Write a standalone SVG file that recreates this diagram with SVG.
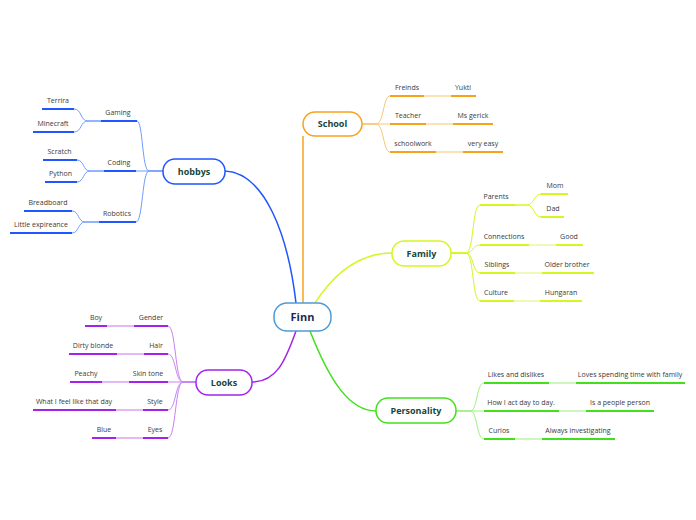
<svg xmlns="http://www.w3.org/2000/svg" width="696" height="520" viewBox="0 0 696 520">
<style>
.t{font-family:"Open Sans","Noto Sans",sans-serif;font-size:7px;fill:#3a3a3a;text-anchor:middle}
.n{font-family:"Open Sans","Noto Sans",sans-serif;font-size:9px;font-weight:bold;fill:#17463a;text-anchor:middle}
.box{fill:#fff;stroke-width:1.5}
.c{fill:none}
.u{fill:none;stroke-width:2}
.bl{stroke:#1f56ff}.blc{stroke:#6f9bff}
.or{stroke:#f7a21b}.orc{stroke:#f9c577}.orl{stroke:#fde2b3}
.ye{stroke:#d6f522}.yel{stroke:#eefab8}
.gr{stroke:#42e01c}.grc{stroke:#9cf07f}.grl{stroke:#cdf6bf}
.pu{stroke:#a522ec}.puc{stroke:#c783f2}.pul{stroke:#e3b9f7}
</style>
<rect width="696" height="520" fill="#fff"/>
<g id="connectors">
<path class="c bl" stroke-width="1.5" d="M225,171 C265,173 288,235 296,303"/>
<path class="c or" stroke-width="1.5" d="M303,303 L303,136"/>
<path class="c ye" stroke-width="1.5" d="M315,303 C335,272 360,253 392,253"/>
<path class="c gr" stroke-width="1.5" d="M310,331 C330,382 350,411 376,411"/>
<path class="c pu" stroke-width="1.5" d="M296,331 C285,362 276,382 252,382"/>
<g class="c blc" stroke-width="1">
<path d="M163,171 H149 C142,171 143,121 137,121"/>
<path d="M163,171 H136"/>
<path d="M163,171 H149 C142,171 143,222 136,222"/>
<path d="M101,121 H88 C80,121 82,109 74,109"/>
<path d="M101,121 H88 C80,121 82,132 74,132"/>
<path d="M104,171 H90 C83,171 84,160 77,160"/>
<path d="M104,171 H90 C83,171 84,182 77,182"/>
<path d="M99,222 H85 C78,222 79,211 72,211"/>
<path d="M99,222 H85 C78,222 79,233 72,233"/>
</g>
<g class="c orc" stroke-width="1">
<path d="M362,124 H376 C384,124 383,96 390,96"/>
<path d="M362,124 H390"/>
<path d="M362,124 H376 C384,124 383,152 390,152"/>
</g>
<g class="u orl">
<path d="M424,96 H451"/><path d="M426,124 H453"/><path d="M436,152 H463"/>
</g>
<g class="c ye" stroke-width="1">
<path d="M451,253 H466 C474,253 472,205 480,205"/>
<path d="M451,253 H466 C474,253 472,245 480,245"/>
<path d="M451,253 H466 C474,253 472,273 480,273"/>
<path d="M451,253 H466 C474,253 472,301 480,301"/>
<path d="M515,205 H527 C534,205 534,194 541,194"/>
<path d="M515,205 H527 C534,205 534,217 541,217"/>
</g>
<g class="u yel">
<path d="M529,245 H556"/><path d="M515,273 H542"/><path d="M514,301 H540"/>
</g>
<g class="c grc" stroke-width="1">
<path d="M456,411 H470 C478,411 476,383 484,383"/>
<path d="M456,411 H484"/>
<path d="M456,411 H470 C478,411 476,439 484,439"/>
</g>
<g class="u grl">
<path d="M549,383 H576"/><path d="M559,411 H586"/><path d="M515,439 H542"/>
</g>
<g class="c puc" stroke-width="1">
<path d="M196,382 H183 C175,382 176,326 168,326"/>
<path d="M196,382 H183 C175,382 176,354 168,354"/>
<path d="M196,382 H168"/>
<path d="M196,382 H183 C175,382 176,410 168,410"/>
<path d="M196,382 H183 C175,382 176,438 168,438"/>
</g>
<g class="u pul">
<path d="M134,326 H107"/><path d="M144,354 H117"/><path d="M129,382 H102"/><path d="M143,410 H116"/><path d="M143,438 H116"/>
</g>
</g>

<g id="finn">
<rect x="274" y="303" width="57" height="28" rx="13" fill="#fff" stroke="#4f9bd6" stroke-width="1.5"/>
<text x="302.5" y="321" style="font-family:'Open Sans','Noto Sans',sans-serif;font-size:11px;font-weight:bold;fill:#1b2a52;text-anchor:middle">Finn</text>
</g>

<g id="hobbys">
<rect class="box bl" x="163" y="159" width="62" height="25" rx="12"/>
<text class="n" x="194" y="174.5">hobbys</text>
</g>
<g id="gaming"><path class="u bl" d="M101,121 H137"/><text class="t" x="118" y="114.5">Gaming</text></g>
<g id="terrira"><path class="u bl" d="M42,109 H74"/><text class="t" x="58" y="102.5">Terrira</text></g>
<g id="minecraft"><path class="u bl" d="M33,132 H74"/><text class="t" x="53" y="125.5">Minecraft</text></g>
<g id="coding"><path class="u bl" d="M104,171 H136"/><text class="t" x="119" y="164.5">Coding</text></g>
<g id="scratch"><path class="u bl" d="M43,160 H77"/><text class="t" x="59.5" y="153.5">Scratch</text></g>
<g id="python"><path class="u bl" d="M45,182 H77"/><text class="t" x="60.5" y="175.5">Python</text></g>
<g id="robotics"><path class="u bl" d="M99,222 H136"/><text class="t" x="117" y="215.5">Robotics</text></g>
<g id="breadboard"><path class="u bl" d="M24,211 H72"/><text class="t" x="48" y="204.5">Breadboard</text></g>
<g id="little"><path class="u bl" d="M10,233 H72"/><text class="t" x="41" y="226.5">Little expireance</text></g>

<g id="school">
<rect class="box or" x="303" y="112" width="59" height="24" rx="12"/>
<text class="n" x="332.5" y="127">School</text>
</g>
<g id="freinds"><path class="u or" d="M390,96 H424"/><text class="t" x="407" y="89.5">Freinds</text></g>
<g id="yukti"><path class="u or" d="M451,96 H476"/><text class="t" x="463" y="89.5">Yukti</text></g>
<g id="teacher"><path class="u or" d="M390,124 H426"/><text class="t" x="408" y="117.5">Teacher</text></g>
<g id="msgerick"><path class="u or" d="M453,124 H493"/><text class="t" x="473" y="117.5">Ms gerick</text></g>
<g id="schoolwork"><path class="u or" d="M390,152 H436"/><text class="t" x="413" y="145.5">schoolwork</text></g>
<g id="veryeasy"><path class="u or" d="M463,152 H503"/><text class="t" x="483" y="145.5">very easy</text></g>

<g id="family">
<rect class="box ye" x="392" y="241" width="59" height="25" rx="12"/>
<text class="n" x="421.5" y="256.5">Family</text>
</g>
<g id="parents"><path class="u ye" d="M480,205 H515"/><text class="t" x="496" y="198.5">Parents</text></g>
<g id="mom"><path class="u ye" d="M541,194 H568"/><text class="t" x="555" y="187.5">Mom</text></g>
<g id="dad"><path class="u ye" d="M541,217 H564"/><text class="t" x="553" y="210.5">Dad</text></g>
<g id="connections"><path class="u ye" d="M480,245 H529"/><text class="t" x="504" y="238.5">Connections</text></g>
<g id="good"><path class="u ye" d="M556,245 H583"/><text class="t" x="569" y="238.5">Good</text></g>
<g id="siblings"><path class="u ye" d="M480,273 H515"/><text class="t" x="497" y="266.5">Siblings</text></g>
<g id="olderbrother"><path class="u ye" d="M542,273 H594"/><text class="t" x="567" y="266.5">Older brother</text></g>
<g id="culture"><path class="u ye" d="M480,301 H514"/><text class="t" x="496" y="294.5">Culture</text></g>
<g id="hungaran"><path class="u ye" d="M540,301 H582"/><text class="t" x="561" y="294.5">Hungaran</text></g>

<g id="personality">
<rect class="box gr" x="376" y="398" width="80" height="25" rx="12"/>
<text class="n" x="416" y="413.5">Personality</text>
</g>
<g id="likes"><path class="u gr" d="M484,383 H549"/><text class="t" x="516" y="376.5">Likes and dislikes</text></g>
<g id="loves"><path class="u gr" d="M576,383 H685"/><text class="t" x="630" y="376.5">Loves spending time with family</text></g>
<g id="howiact"><path class="u gr" d="M484,411 H559"/><text class="t" x="521" y="404.5">How I act day to day.</text></g>
<g id="people"><path class="u gr" d="M586,411 H654"/><text class="t" x="620" y="404.5">Is a people person</text></g>
<g id="curios"><path class="u gr" d="M484,439 H515"/><text class="t" x="499" y="432.5">Curios</text></g>
<g id="always"><path class="u gr" d="M542,439 H615"/><text class="t" x="578" y="432.5">Always investigating</text></g>

<g id="looks">
<rect class="box pu" x="196" y="370" width="56" height="25" rx="12"/>
<text class="n" x="224" y="385.5">Looks</text>
</g>
<g id="gender"><path class="u pu" d="M134,326 H168"/><text class="t" x="151" y="319.5">Gender</text></g>
<g id="boy"><path class="u pu" d="M85,326 H107"/><text class="t" x="96" y="319.5">Boy</text></g>
<g id="hair"><path class="u pu" d="M144,354 H168"/><text class="t" x="156" y="347.5">Hair</text></g>
<g id="dirtyblonde"><path class="u pu" d="M69,354 H117"/><text class="t" x="93" y="347.5">Dirty blonde</text></g>
<g id="skintone"><path class="u pu" d="M129,382 H168"/><text class="t" x="148" y="375.5">Skin tone</text></g>
<g id="peachy"><path class="u pu" d="M70,382 H102"/><text class="t" x="86" y="375.5">Peachy</text></g>
<g id="style"><path class="u pu" d="M143,410 H168"/><text class="t" x="155" y="403.5">Style</text></g>
<g id="whatifeel"><path class="u pu" d="M33,410 H116"/><text class="t" x="74" y="403.5">What I feel like that day</text></g>
<g id="eyes"><path class="u pu" d="M143,438 H168"/><text class="t" x="155" y="431.5">Eyes</text></g>
<g id="blue"><path class="u pu" d="M92,438 H116"/><text class="t" x="104" y="431.5">Blue</text></g>
</svg>
